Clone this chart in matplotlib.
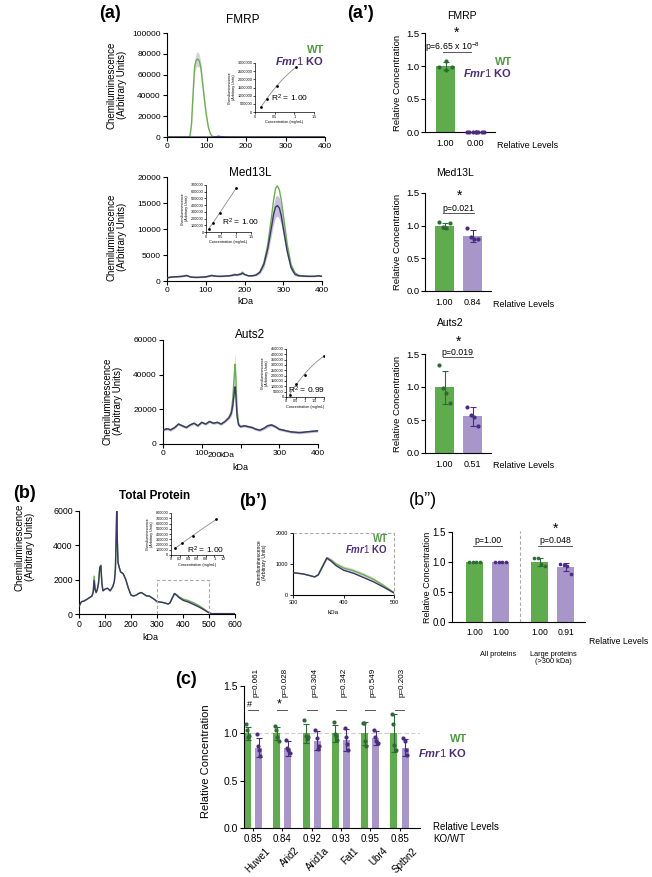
import numpy as np
import matplotlib
matplotlib.use('Agg')
import matplotlib.pyplot as plt

plt.rcParams['font.family'] = ['Liberation Sans', 'DejaVu Sans']
plt.rcParams['mathtext.fontset'] = 'custom'
plt.rcParams['mathtext.rm'] = 'Liberation Sans'
plt.rcParams['mathtext.it'] = 'Liberation Sans:italic:bold'
plt.rcParams['mathtext.bf'] = 'Liberation Sans:bold'
plt.rcParams['axes.linewidth'] = 0.8

# ---------------- DATA ----------------
# (a) FMRP electropherogram
fmrp_x = [0, 40, 55, 58, 62, 66, 70, 74, 78, 82, 86, 90, 95, 100, 105, 110, 115, 125, 130, 135, 150, 200, 300, 400]
fmrp_wt = [0, 0, 0, 1000, 12000, 42000, 68000, 74000, 75000, 73000, 66000, 52000, 35000, 20000, 9000, 3000, 500, 0, 0, 0, 0, 0, 0, 0]
fmrp_wt_sd = [0, 0, 0, 300, 2000, 5000, 6000, 7000, 7000, 6000, 5000, 4000, 3000, 2000, 1000, 500, 0, 0, 0, 0, 0, 0, 0, 0]
fmrp_ko = [0, 0, 0, 0, 0, 0, 0, 0, 0, 0, 0, 0, 0, 0, 0, 0, 0, 300, 700, 400, 100, 0, 0, 0]

# (a) Med13L electropherogram
med_x = [0, 10, 20, 30, 40, 50, 60, 70, 80, 90, 100, 110, 115, 120, 130, 140, 150, 160, 170, 175, 180, 190, 195, 200,
         210, 220, 230, 240, 250, 260, 270, 275, 280, 285, 290, 295, 300, 310, 320, 330, 340, 350, 360, 370, 380, 390, 400]
med_wt = [600, 750, 800, 850, 900, 1100, 800, 700, 700, 750, 800, 1000, 1100, 1000, 900, 900, 950, 1000, 1150, 1300, 1200,
          1400, 1700, 1300, 1000, 1000, 1200, 1800, 3500, 7000, 12500, 15500, 17800, 18300, 17500, 15500, 12800, 7200, 3200,
          1600, 1100, 1000, 950, 900, 900, 1000, 900]
med_ko = [600, 750, 800, 850, 900, 1050, 800, 700, 700, 750, 800, 950, 1050, 1000, 900, 900, 950, 1000, 1100, 1200, 1150,
          1300, 1500, 1250, 1000, 1000, 1150, 1700, 3200, 6200, 10500, 12800, 14200, 14500, 14000, 12500, 10200, 5800, 2600,
          1300, 1000, 950, 900, 900, 900, 1000, 900]
med_ko_sd = [100, 100, 100, 100, 100, 100, 100, 100, 100, 100, 100, 100, 100, 100, 100, 100, 100, 100, 100, 150, 150,
             150, 150, 150, 100, 100, 150, 300, 600, 1000, 1500, 1800, 2000, 2000, 2000, 1800, 1500, 1000, 600,
             300, 150, 100, 100, 100, 100, 100, 100]

# (a) Auts2 electropherogram
aut_x = [0, 10, 20, 30, 40, 50, 60, 70, 80, 90, 100, 110, 120, 130, 140, 150, 160, 170,
         176, 180, 184, 186, 188, 191, 195,
         200, 210, 220, 230, 240, 250, 260, 270, 280, 290, 300, 310, 320, 330, 340, 350, 360, 370, 380, 390, 400]
aut_wt = [8000, 8800, 8200, 9500, 11500, 10500, 9500, 11000, 12000, 10500, 12500, 11500, 13000, 12000, 12500, 11500, 13000, 15500,
          18500, 26000, 40000, 46000, 38000, 20000, 12000,
          10000, 10500, 10000, 9500, 8500, 8000, 9000, 10500, 11000, 10000, 8500, 8000, 7500, 7000, 6800, 6600, 6700, 7000, 7200, 7400, 7600]
aut_wt_sd = [0, 0, 0, 0, 0, 0, 0, 0, 0, 0, 0, 0, 0, 0, 0, 0, 0, 0,
             1000, 3000, 6000, 7000, 5000, 2000, 500,
             0, 0, 0, 0, 0, 0, 0, 0, 0, 0, 0, 0, 0, 0, 0, 0, 0, 0, 0, 0, 0]
aut_ko = [8000, 8800, 8200, 9500, 11500, 10500, 9500, 11000, 12000, 10500, 12500, 11500, 13000, 12000, 12500, 11500, 13000, 15000,
          17500, 22000, 30000, 33000, 28000, 16000, 11000,
          10000, 10500, 10000, 9500, 8500, 8000, 9000, 10500, 11000, 10000, 8500, 8000, 7500, 7000, 6800, 6600, 6700, 7000, 7200, 7400, 7600]
aut_ko_sd = [700, 700, 700, 700, 700, 700, 700, 700, 700, 700, 700, 700, 700, 700, 700, 700, 700, 700,
             1500, 2500, 3000, 3000, 2500, 1500, 800,
             700, 700, 700, 700, 700, 700, 800, 900, 900, 800, 700, 700, 700, 700, 700, 700, 700, 700, 700, 700, 700]

# (b) Total protein electropherogram
tp_x = [0, 5, 10, 20, 30, 40, 50, 55, 58, 62, 66, 70, 75, 80, 84, 88, 92, 100, 110, 120, 130, 136, 140, 143, 145, 147, 150,
        155, 160, 170, 180, 190, 200, 210, 220, 230, 240, 250, 260, 270, 280, 290, 300, 310, 320, 330, 343,
        350, 358, 367, 375, 385, 400, 420, 440, 460, 480, 500, 510, 550, 600]
tp_ko = [430, 600, 720, 760, 850, 950, 1050, 1300, 1950, 1400, 1250, 1400, 1800, 2700, 2800, 1800, 1350, 1450, 1500, 1350, 1600, 1900, 2600, 4500, 6000, 4500, 3000,
         2700, 2450, 2350, 2000, 1500, 1100, 1050, 1100, 1200, 1250, 1150, 1050, 1050, 950, 850, 720, 700, 680, 640, 580,
         650, 900, 1190, 1100, 950, 800, 700, 560, 420, 250, 65, 20, 20, 20]
tp_wt = [430, 600, 720, 760, 850, 950, 1050, 1350, 2200, 1500, 1250, 1400, 1800, 2750, 2850, 1800, 1350, 1450, 1500, 1350, 1600, 1900, 2600, 4500, 5950, 4500, 3000,
         2700, 2450, 2350, 2000, 1500, 1100, 1050, 1100, 1200, 1250, 1150, 1050, 1050, 950, 850, 720, 700, 680, 640, 590,
         660, 920, 1200, 1130, 1000, 870, 780, 650, 500, 300, 80, 20, 20, 20]
tp_wt_sd = [0, 0, 0, 0, 0, 0, 0, 50, 150, 50, 0, 0, 50, 80, 80, 50, 0, 0, 0, 0, 0, 0, 0, 0, 0, 0, 0,
            0, 0, 0, 0, 0, 0, 0, 0, 0, 0, 0, 0, 0, 0, 0, 0, 0, 0, 0, 0,
            20, 40, 60, 60, 60, 70, 70, 70, 60, 40, 20, 0, 0, 0]

# Standard-curve insets (concentration mg/mL, chemiluminescence)
fmrp_std_x = [0.15, 0.3, 0.55, 1.05]
fmrp_std_y = [300000, 800000, 1600000, 2750000]
med_std_x = [0.1, 0.22, 0.45, 1.0]
med_std_y = [50000, 130000, 280000, 650000]
aut_std_x = [0.2, 0.5, 1.0, 2.0]
aut_std_y = [20000, 125000, 210000, 385000]
tp_std_x = [0.1, 0.25, 0.5, 1.05]
tp_std_y = [130000, 220000, 370000, 680000]
r2_values = ["1.00", "1.00", "0.99", "1.00"]

# (a') relative concentration bars [WT, KO]
ap_fmrp_means = [1.00, 0.0]
ap_fmrp_errs = [0.055, 0.0]
ap_fmrp_dots = [[1.07, 0.99, 0.99, 0.94], [0.0, 0.0, 0.0, 0.0]]
ap_fmrp_levels = ["1.00", "0.00"]
ap_med_means = [1.00, 0.84]
ap_med_errs = [0.045, 0.09]
ap_med_dots = [[1.05, 0.98, 0.96, 1.04], [0.96, 0.82, 0.80, 0.79]]
ap_med_levels = ["1.00", "0.84"]
ap_aut_means = [1.00, 0.555]
ap_aut_errs = [0.25, 0.14]
ap_aut_dots = [[1.34, 0.98, 0.91, 0.76], [0.69, 0.58, 0.55, 0.41]]
ap_aut_levels = ["1.00", "0.51"]
ap_pvals = ["p=6.65 x 10$^{-8}$", "p=0.021", "p=0.019"]

# (b'') all proteins / large proteins
bpp_means = [1.00, 1.00, 1.00, 0.915]
bpp_errs = [0.0, 0.0, 0.07, 0.07]
bpp_dots = [[1.0, 1.0, 1.0, 1.0], [1.0, 1.0, 1.0, 1.0], [1.07, 1.06, 0.97, 0.94], [0.97, 0.95, 0.94, 0.80]]
bpp_levels = ["1.00", "1.00", "1.00", "0.91"]
bpp_pvals = ["p=1.00", "p=0.048"]

# (c) large proteins
c_names = ["Huwe1", "Arid2", "Arid1a", "Fat1", "Ubr4", "Sptbn2"]
c_wt = [1.00, 1.00, 1.00, 1.00, 1.00, 1.00]
c_ko = [0.85, 0.84, 0.92, 0.93, 0.95, 0.85]
c_wt_err = [0.07, 0.07, 0.10, 0.09, 0.12, 0.20]
c_ko_err = [0.10, 0.08, 0.10, 0.12, 0.07, 0.09]
c_wt_dots = [[1.10, 1.03, 0.96, 0.97], [1.08, 1.04, 0.96, 0.92], [1.14, 0.97, 0.94, 0.96],
             [1.12, 0.99, 0.97, 0.93], [1.11, 1.11, 0.92, 0.87], [1.20, 1.10, 0.88, 0.82]]
c_ko_dots = [[0.99, 0.87, 0.82, 0.76], [0.93, 0.85, 0.82, 0.79], [1.03, 0.95, 0.83, 0.87],
             [1.06, 0.96, 0.89, 0.82], [1.03, 0.96, 0.92, 0.90], [0.95, 0.92, 0.82, 0.77]]
c_levels = ["0.85", "0.84", "0.92", "0.93", "0.95", "0.85"]
c_pvals = ["p=0.061", "p=0.028", "p=0.304", "p=0.342", "p=0.549", "p=0.203"]
c_marks = ["#", "*", "", "", "", ""]

# ---------------- STYLE ----------------
GREEN_LINE = '#6AB04C'
KO_LINE = '#3B3768'
GREEN_BAR = '#5FAC4C'
PURPLE_BAR = '#A895C9'
GREEN_DOT = '#2E6A36'
PURPLE_DOT = '#4A2C84'
LEG_GREEN = '#4E9B3F'
LEG_PURPLE = '#4B2B7E'
GREY = '#555555'

W, H = 652, 877
fig = plt.figure(figsize=(W / 100, H / 100), dpi=100)


def px_ax(l, t, r, b):
    return fig.add_axes([l / W, 1 - b / H, (r - l) / W, (b - t) / H])


def ftext(x, y, s, **kw):
    return fig.text(x / W, 1 - y / H, s, **kw)


def style(ax, fs=6, lw=0.8, tl=3, pad=1.5):
    for s in ['top', 'right']:
        ax.spines[s].set_visible(False)
    for s in ['left', 'bottom']:
        ax.spines[s].set_linewidth(lw)
    ax.tick_params(labelsize=fs, width=lw, length=tl, pad=pad)


def trace(ax, x, wt, ko, wt_sd=None, ko_sd=None, xlim=(0, 400), ylim=None, xticks=None, yticks=None, fs=6):
    x = np.asarray(x, float)
    wt = np.asarray(wt, float)
    ko = np.asarray(ko, float)
    if wt_sd is not None:
        s = np.asarray(wt_sd, float)
        ax.fill_between(x, wt - s, wt + s, color='#d6d6d6', lw=0, zorder=1)
    if ko_sd is not None:
        s = np.asarray(ko_sd, float)
        ax.fill_between(x, ko - s, ko + s, color='#c7bde0', lw=0, zorder=1)
    ax.plot(x, wt, color=GREEN_LINE, lw=1.0, zorder=2)
    ax.plot(x, ko, color=KO_LINE, lw=1.0, zorder=3)
    ax.set_xlim(xlim)
    ax.set_ylim(ylim)
    ax.set_xticks(xticks)
    ax.set_xticklabels([str(v) for v in xticks])
    ax.set_yticks(yticks)
    ax.set_yticklabels([str(v) for v in yticks])
    style(ax, fs=fs)


def inset(ax, cx, cy, xlim, xticks, xtl, ylim, yticks):
    cx = np.asarray(cx, float)
    cy = np.asarray(cy, float)
    coef = np.polyfit(cx, cy, 2)
    xs = np.linspace(cx.min(), cx.max(), 50)
    ax.plot(xs, np.polyval(coef, xs), color='#8c8c8c', lw=0.6, zorder=2)
    ax.scatter(cx, cy, s=4, color='black', zorder=3, lw=0)
    ax.set_xlim(xlim)
    ax.set_ylim(ylim)
    ax.set_xticks(xticks)
    ax.set_xticklabels(xtl)
    ax.set_yticks(yticks)
    ax.set_yticklabels([str(v) for v in yticks])
    style(ax, fs=2.7, lw=0.5, tl=1.2, pad=0.6)
    ax.set_ylabel('Chemiluminescence\n(Arbitrary Units)', fontsize=2.6, labelpad=1, linespacing=1.0)
    ax.set_xlabel('Concentration (mg/mL)', fontsize=2.7, labelpad=0.8)


OFFS = np.array([-0.3, -0.1, 0.1, 0.3])


def bars(ax, pos, means, errs, dots, width, dot_s=7, offs=OFFS):
    cols = [GREEN_BAR, PURPLE_BAR]
    dcols = [GREEN_DOT, PURPLE_DOT]
    for i, (p, m, e, d) in enumerate(zip(pos, means, errs, dots)):
        k = i % 2
        ax.bar(p, m, width, color=cols[k], zorder=1)
        if e > 0:
            ax.errorbar(p, m, yerr=e, fmt='none', ecolor=dcols[k], elinewidth=0.8,
                        capsize=2.5, capthick=0.8, zorder=2)
        ax.scatter(p + offs * width, d, s=dot_s, color=dcols[k], zorder=3, lw=0, clip_on=False)
    ax.set_ylim(0, 1.5)
    ax.set_yticks([0, 0.5, 1.0, 1.5])
    ax.set_yticklabels(["0.0", "0.5", "1.0", "1.5"])


def legend(xr, y1, y2, fs):
    ftext(xr, y1, "WT", color=LEG_GREEN, fontsize=fs, fontweight='bold', ha='right', va='center')
    ftext(xr, y2, r"$\mathit{Fmr1}$ KO", color=LEG_PURPLE, fontsize=fs, fontweight='bold', ha='right', va='center')


def pline(ax, x0, x1, y):
    ax.plot([x0, x1], [y, y], color=GREY, lw=0.7, clip_on=False, zorder=4)


CHEM = 'Chemiluminescence\n(Arbitrary Units)'

# ---------------- (a) traces ----------------
ax = px_ax(167, 33, 325, 137)
trace(ax, fmrp_x, fmrp_wt, fmrp_ko, wt_sd=fmrp_wt_sd, ylim=(0, 100000),
      xticks=[0, 100, 200, 300, 400], yticks=[0, 20000, 40000, 60000, 80000, 100000])
ftext(243, 20, "FMRP", fontsize=8.5, ha='center', va='center')
ftext(117, 85, CHEM, fontsize=7, rotation=90, ha='center', va='center', linespacing=1.1)
legend(324, 50, 61, 8)
ax = px_ax(255, 63, 314, 112)
inset(ax, fmrp_std_x, fmrp_std_y, (0, 1.5), [0, 0.5, 1, 1.5], ["0", "0.5", "1", "1.5"],
      (0, 3000000), [0, 500000, 1000000, 1500000, 2000000, 2500000, 3000000])
ftext(290, 98, "R$^2$ = " + r2_values[0], fontsize=6, ha='center', va='center')

ax = px_ax(167, 177, 322, 281)
trace(ax, med_x, med_wt, med_ko, ko_sd=med_ko_sd, ylim=(0, 20000),
      xticks=[0, 100, 200, 300, 400], yticks=[0, 5000, 10000, 15000, 20000])
ftext(250, 173, "Med13L", fontsize=8.5, ha='center', va='center')
ftext(117, 237, CHEM, fontsize=7, rotation=90, ha='center', va='center', linespacing=1.1)
ftext(245, 302, "kDa", fontsize=6.5, ha='center', va='center')
ax = px_ax(206, 185, 251, 232)
inset(ax, med_std_x, med_std_y, (0, 1.5), [0, 0.5, 1, 1.5], ["0", "0.5", "1", "1.5"],
      (0, 700000), [0, 100000, 200000, 300000, 400000, 500000, 600000, 700000])
ftext(241, 222, "R$^2$ = " + r2_values[1], fontsize=6, ha='center', va='center')

ax = px_ax(163, 340, 318, 444)
trace(ax, aut_x, aut_wt, aut_ko, wt_sd=aut_wt_sd, ko_sd=aut_ko_sd, ylim=(0, 60000),
      xticks=[0, 100, 200, 300, 400], yticks=[0, 20000, 40000, 60000])
ax.set_xticklabels(["0", "100", "", "300", "400"])
ftext(215, 455, "200", fontsize=6, ha='center', va='center')
ftext(227, 455, "kDa", fontsize=6, ha='center', va='center')
ftext(240, 467, "kDa", fontsize=6.5, ha='center', va='center')
ftext(250, 335, "Auts2", fontsize=8.5, ha='center', va='center')
ftext(113, 401, CHEM, fontsize=7, rotation=90, ha='center', va='center', linespacing=1.1)
ax = px_ax(286, 349, 324, 397)
inset(ax, aut_std_x, aut_std_y, (0, 2), [0, 0.5, 1, 1.5, 2], ["0", "0.5", "1", "1.5", "2"],
      (0, 450000), [0, 50000, 100000, 150000, 200000, 250000, 300000, 350000, 400000, 450000])
ftext(307, 390, "R$^2$ = " + r2_values[2], fontsize=6, ha='center', va='center')

# ---------------- (a') bars ----------------
ap_sets = [
    ((425, 33, 495, 132), 30.0, 445.5, ap_fmrp_means, ap_fmrp_errs, ap_fmrp_dots, ap_fmrp_levels, "FMRP", (462, 16)),
    ((425, 193, 491, 291), 28.0, 444.5, ap_med_means, ap_med_errs, ap_med_dots, ap_med_levels, "Med13L", (455, 173)),
    ((425, 354, 491, 453), 28.0, 444.5, ap_aut_means, ap_aut_errs, ap_aut_dots, ap_aut_levels, "Auts2", (450, 323)),
]
ap_axes = []
for (box, unit, c0, means, errs, dots, levels, title, tpos) in ap_sets:
    l, t, r, b = box
    ax = px_ax(l, t, r, b)
    offs = OFFS if title != "FMRP" else np.array([0.0, -0.33, 0.33, 0.0])
    bars(ax, [0, 1], means, errs, dots, 19.0 / unit, dot_s=9, offs=offs)
    ax.set_xlim((l - c0) / unit, (r - c0) / unit)
    ax.set_xticks([0, 1])
    ax.set_xticklabels(levels)
    style(ax, fs=6.8, pad=1.0)
    ax.tick_params(axis='x', length=0, pad=5, labelsize=6.5)
    ftext(tpos[0], tpos[1], title, fontsize=7.5, ha='center', va='center')
    ftext(398, (t + b) / 2, "Relative Concentration", fontsize=6.8, rotation=90, ha='center', va='center')
    ftext(r + 2, b + 13, "Relative Levels", fontsize=6.5, ha='left', va='center')
    ap_axes.append(ax)

# FMRP KO zero dots spread horizontally
ax = ap_axes[0]
ax.scatter(1 + np.array([-0.27, -0.09, 0.09, 0.27]), ap_fmrp_dots[1], s=9, color=PURPLE_DOT, zorder=4, lw=0, clip_on=False)
pline(ax, -0.08, 0.85, 1.21)
ax.text(0.22, 1.29, ap_pvals[0], fontsize=6.3, ha='center', va='center')
ax.text(0.38, 1.50, "*", fontsize=10, ha='center', va='center', clip_on=False)
legend(512, 62, 73, 8)

ax = ap_axes[1]
pline(ax, -0.05, 1.05, 1.19)
ax.text(0.48, 1.27, ap_pvals[1], fontsize=6.3, ha='center', va='center')
ax.text(0.55, 1.45, "*", fontsize=10, ha='center', va='center')

ax = ap_axes[2]
pline(ax, -0.05, 1.02, 1.455)
ax.text(0.46, 1.53, ap_pvals[2], fontsize=6.3, ha='center', va='center', clip_on=False)
ax.text(0.5, 1.69, "*", fontsize=10, ha='center', va='center', clip_on=False)

ftext(110, 13, "(a)", fontsize=13, fontweight='bold', ha='center', va='center')
ftext(361, 13, "(a\u2019)", fontsize=13, fontweight='bold', ha='center', va='center')

# ---------------- (b) total protein ----------------
ax = px_ax(79, 511, 235, 614)
trace(ax, tp_x, tp_wt, tp_ko, wt_sd=tp_wt_sd, xlim=(0, 600), ylim=(0, 6000),
      xticks=[0, 100, 200, 300, 400, 500, 600], yticks=[0, 2000, 4000, 6000], fs=6.3)
ax.plot([300, 300, 500, 500], [0, 2000, 2000, 0], ls='--', color='#a8a8a8', lw=0.8, dashes=(3, 2), zorder=4)
ftext(155, 496, "Total Protein", fontsize=8.5, fontweight='bold', ha='center', va='center')
ftext(25, 547, CHEM, fontsize=7, rotation=90, ha='center', va='center', linespacing=1.1)
ftext(150, 637, "kDa", fontsize=6.5, ha='center', va='center')
ftext(25, 493, "(b)", fontsize=13, fontweight='bold', ha='center', va='center')
ax = px_ax(171, 513, 223, 555)
inset(ax, tp_std_x, tp_std_y, (0, 1.2), [0, 0.2, 0.4, 0.6, 0.8, 1.0, 1.2],
      ["0", "0.2", "0.4", "0.6", "0.8", "1", "1.2"],
      (0, 800000), [0, 100000, 200000, 300000, 400000, 500000, 600000, 700000, 800000])
ftext(206, 550, "R$^2$ = " + r2_values[3], fontsize=6, ha='center', va='center')

# ---------------- (b') zoom ----------------
ax = px_ax(293, 533, 394, 595)
trace(ax, tp_x, tp_wt, tp_ko, wt_sd=tp_wt_sd, xlim=(300, 500), ylim=(0, 2000),
      xticks=[300, 400, 500], yticks=[0, 1000, 2000], fs=4)
ax.tick_params(length=2, width=0.6)
ax.plot([300, 500, 500], [2000, 2000, 0], ls='--', color='#a8a8a8', lw=0.8, dashes=(3, 2), clip_on=False, zorder=4)
ftext(333, 613, "kDa", fontsize=4.5, ha='center', va='center')
ftext(262, 562, CHEM, fontsize=3.6, rotation=90, ha='center', va='center', linespacing=1.0)
legend(388, 539, 549, 7)
ftext(253, 502, "(b\u2019)", fontsize=13, fontweight='bold', ha='center', va='center')

# ---------------- (b'') ----------------
ax = px_ax(452, 532, 585, 622)
bars(ax, [0, 1, 2.5, 3.5], bpp_means, bpp_errs, bpp_dots, 0.67, dot_s=7)
ax.set_xlim(-0.87, 4.25)
ax.set_xticks([0, 1, 2.5, 3.5])
ax.set_xticklabels(bpp_levels)
style(ax, fs=7)
ax.tick_params(axis='x', length=0, pad=4, labelsize=6.2)
ax.plot([1.75, 1.75], [0, 1.52], ls='--', color='#a8a8a8', lw=0.8, dashes=(3, 2), clip_on=False)
pline(ax, -0.06, 1.06, 1.27)
ax.text(0.52, 1.36, bpp_pvals[0], fontsize=6.3, ha='center', va='center')
pline(ax, 2.44, 3.75, 1.27)
ax.text(3.1, 1.36, bpp_pvals[1], fontsize=6.3, ha='center', va='center')
ax.text(3.13, 1.55, "*", fontsize=10, ha='center', va='center', clip_on=False)
ftext(427, 577, "Relative Concentration", fontsize=6.5, rotation=90, ha='center', va='center')
ftext(589, 641, "Relative Levels", fontsize=6.2, ha='left', va='center')
ftext(498, 654, "All proteins", fontsize=5.3, ha='center', va='center')
ftext(553, 658, "Large proteins\n(>300 kDa)", fontsize=5.3, ha='center', va='center', linespacing=1.1)
ftext(423, 501, "(b\u201d)", fontsize=13, ha='center', va='center')

# ---------------- (c) ----------------
ax = px_ax(244, 686, 420, 828)
pos = []
means = []
errs = []
dots = []
for i in range(len(c_names)):
    pos += [i - 0.19, i + 0.19]
    means += [c_wt[i], c_ko[i]]
    errs += [c_wt_err[i], c_ko_err[i]]
    dots += [c_wt_dots[i], c_ko_dots[i]]
ax.axhline(1.0, color='#cccccc', lw=0.8, ls='--', dashes=(4, 2), zorder=0.5)
bars(ax, pos, means, errs, dots, 0.24, dot_s=9, offs=np.array([-0.25, -0.08, 0.08, 0.25]))
ax.set_xlim(-0.31, 5.7)
ax.set_xticks(range(len(c_names)))
ax.set_xticklabels(c_levels)
style(ax, fs=7.5)
ax.tick_params(axis='x', length=2, pad=2, labelsize=7)
for i, name in enumerate(c_names):
    ax.text(i + 0.42, -0.125, name, rotation=45, ha='right', va='top', fontsize=7,
            transform=ax.get_xaxis_transform(), rotation_mode='anchor')
    pline(ax, i - 0.17, i + 0.17, 1.25)
    ax.text(i + 0.1, 1.38, c_pvals[i], rotation=90, fontsize=5.8, ha='center', va='bottom', clip_on=False)
    if c_marks[i]:
        ax.text(i - 0.12, 1.30, c_marks[i], fontsize=6.5 if c_marks[i] == '#' else 9, ha='center', va='center')
ftext(206, 761, "Relative Concentration", fontsize=8, rotation=90, ha='center', va='center')
ftext(433, 833, "Relative Levels\nKO/WT", fontsize=7, ha='left', va='center', linespacing=1.3)
legend(467, 739, 753, 8)
ftext(186, 680, "(c)", fontsize=13, fontweight='bold', ha='center', va='center')

fig.savefig('out.png', dpi=100)
